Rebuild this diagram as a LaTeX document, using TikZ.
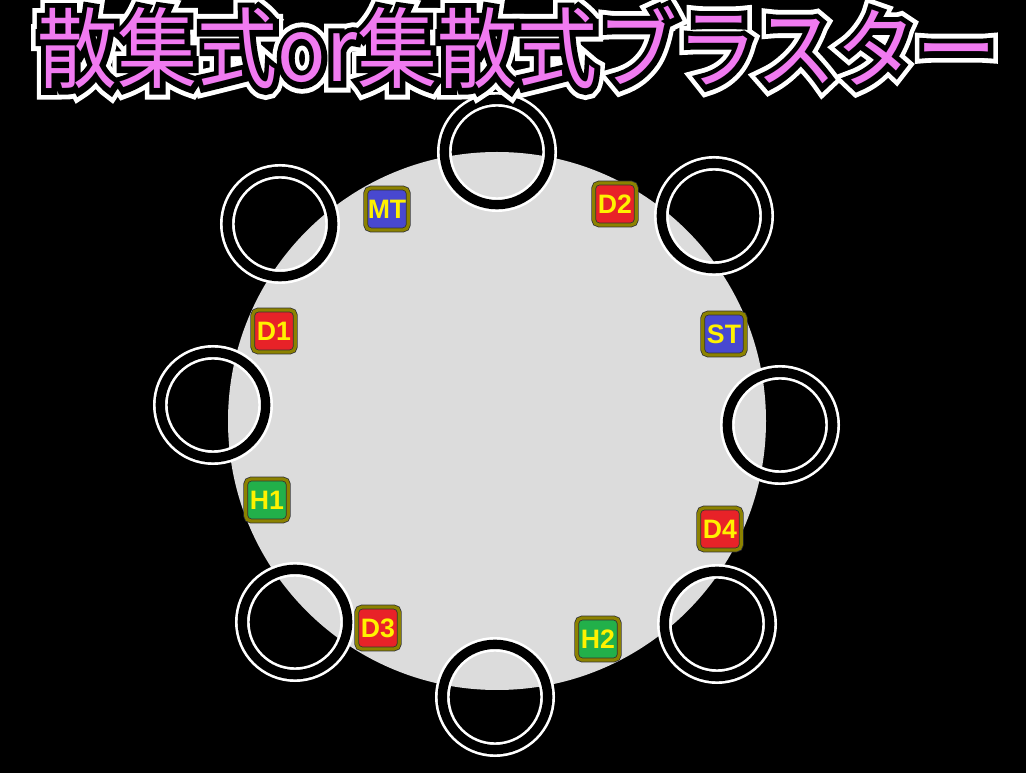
\documentclass[tikz,border=0pt]{standalone}
\usepackage{fontspec}
\setmainfont{Liberation Sans}
\newfontfamily\jpfont{Noto Sans CJK JP}
\newfontfamily\jpblack{Noto Sans CJK JP}[FakeBold=13]
\newfontfamily\jpwhite{Noto Sans CJK JP}[FakeBold=24]
\definecolor{plategray}{RGB}{220,220,220}
\definecolor{titlepink}{RGB}{240,122,240}
\definecolor{tagred}{RGB}{232,34,40}
\definecolor{tagblue}{RGB}{72,72,208}
\definecolor{taggreen}{RGB}{34,176,74}
\definecolor{tagolive}{RGB}{140,130,0}
\definecolor{tagyellow}{RGB}{255,242,0}
\newcommand{\titlestr}{散集式or集散式ブラスター}
\tikzset{
  ring/.style={circle,draw=white,line width=2pt,double=black,double distance=7pt,
    minimum size=79pt,inner sep=0pt},
  tag/.style={rectangle,rounded corners=4pt,draw=black!80,line width=0.6pt,
    double=tagolive,double distance=2.4pt,minimum width=32pt,minimum height=31.5pt,
    inner sep=0pt,text=tagyellow,font=\bfseries\fontsize{20}{20}\selectfont},
  titletext/.style={font=\fontsize{66}{66}\selectfont,
    xscale=0.91,anchor=base,inner sep=0pt}
}
\begin{document}
\begin{tikzpicture}[x=0.75pt,y=-0.75pt]
        \fill [black] (0,0) rectangle (1026,773);
        \fill [plategray] (497,421) circle[radius=269];
        \node [ring] (r1) at (497,152) {};
        \node [ring] (r2) at (714,216) {};
        \node [ring] (r3) at (780,425) {};
        \node [ring] (r4) at (717,624) {};
        \node [ring] (r5) at (495,697) {};
        \node [ring] (r6) at (295,622) {};
        \node [ring] (r7) at (213,405) {};
        \node [ring] (r8) at (280,224) {};
        \node [tag,fill=tagblue] (mt) at (387,209) {MT};
        \node [tag,fill=tagred] (d2) at (615,204) {D2};
        \node [tag,fill=tagred] (d1) at (274,331) {D1};
        \node [tag,fill=tagblue] (st) at (724,334) {ST};
        \node [tag,fill=taggreen] (h1) at (267,500) {H1};
        \node [tag,fill=tagred] (d4) at (720,529) {D4};
        \node [tag,fill=tagred] (d3) at (378,628) {D3};
        \node [tag,fill=taggreen] (h2) at (598,639) {H2};
        \node [titletext,text=white] (titlew) at (517,82) {\jpwhite\titlestr};
        \node [titletext,text=black] (titleb) at (517,82) {\jpblack\titlestr};
        \node [titletext,text=titlepink] (title) at (517,82) {\jpfont\titlestr};
\end{tikzpicture}
\end{document}
